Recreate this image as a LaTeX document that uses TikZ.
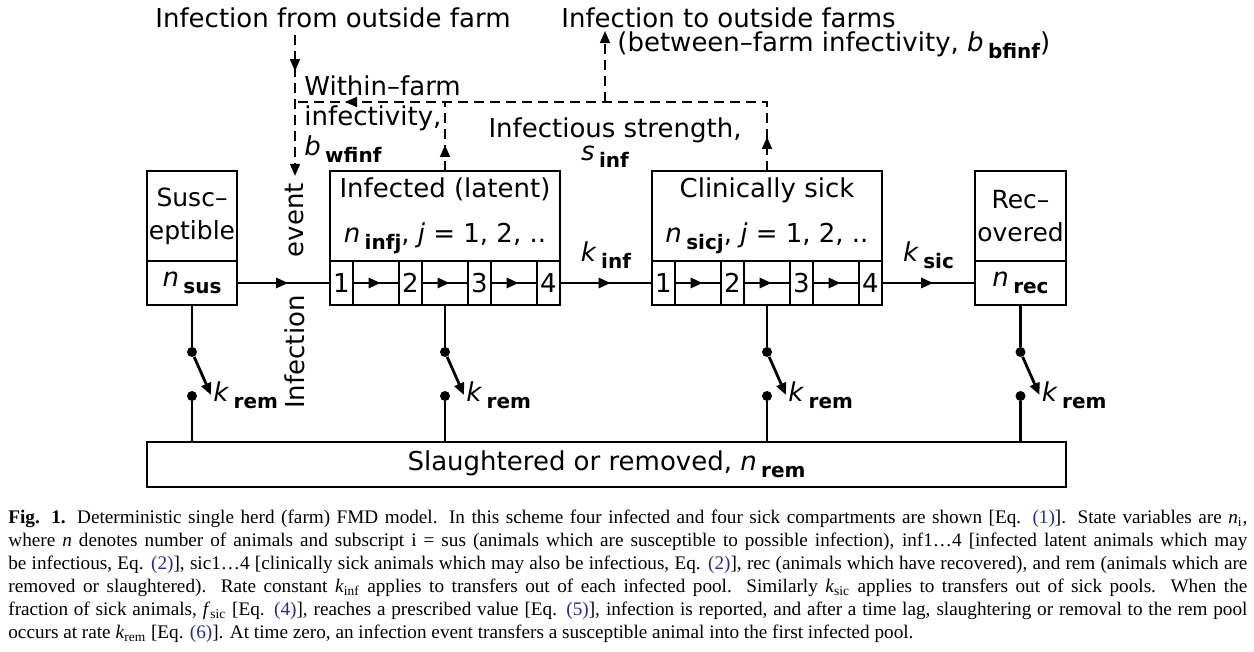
\documentclass[tikz,border=0pt]{standalone}
\usepackage{fontspec}
\setmainfont{DejaVu Sans}
\newfontfamily\capfont{Liberation Serif}
\usetikzlibrary{positioning,arrows.meta,decorations.markings}
\definecolor{eqblue}{RGB}{40,45,140}
\newcommand{\Vsub}[2]{\textit{#1}\,\raisebox{-0.5ex}{\fontsize{10}{10}\selectfont\bfseries #2}}
\newcommand{\Eq}[1]{\textcolor{eqblue}{(#1)}}
\tikzstyle{comp} = [draw, line width=1pt, inner sep=0pt, outer sep=0pt, anchor=north west, align=center, minimum height=45pt]
\tikzstyle{cell} = [draw, line width=1pt, inner sep=0pt, outer sep=0pt, minimum height=22pt]
\tikzstyle{flow} = [line width=1.4pt]
\tikzstyle{dashline} = [line width=0.8pt, dash pattern=on 5pt off 3pt]
\tikzstyle{dot} = [circle, fill, inner sep=0pt, minimum size=5pt]

\begin{document}
\begin{tikzpicture}[x=0.5pt, y=-0.5pt, font=\fontsize{13}{15.6}\selectfont,
  >={Triangle[length=6pt, width=5pt]},
  midtip/.style={postaction={decorate, decoration={markings, mark=at position #1 with {\arrow{>}}}}}]
\useasboundingbox (0,0) rectangle (1254,652);

% Define nodes
\node[comp, minimum width=45pt, font=\fontsize{12.5}{16.5}\selectfont] (sus) at (147,171) {Susc--\\eptible};
\node[comp, minimum width=45pt, minimum height=22pt] (nsus) at (sus.south west) {\Vsub{n}{sus}};
\node[comp, minimum width=115pt] (inf) at (330,171) {Infected (latent)\\[7pt]\Vsub{n}{infj}, \textit{j} = 1, 2, ..};
\node[comp, minimum width=115pt] (sick) at (652,171) {Clinically sick\\[7pt]\Vsub{n}{sicj}, \textit{j} = 1, 2, ..};
\node[comp, minimum width=45.5pt, font=\fontsize{12.5}{16.5}\selectfont] (rec) at (975,171) {Rec--\\overed};
\node[comp, minimum width=45.5pt, minimum height=22pt] (nrec) at (rec.south west) {\Vsub{n}{rec}};
\node[comp, minimum width=459.5pt, minimum height=22.5pt] (rem) at (147,442) {Slaughtered or removed, \Vsub{n}{rem}};

\foreach \bx in {inf, sick} {
  \node[cell, minimum width=11.5pt, anchor=north west] (\bx-c0) at (\bx.south west) {1};
  \foreach \i [remember=\i as \j (initially 0)] in {1,...,6} {
    \ifodd\i\relax
      \node[cell, minimum width=23pt, right=0pt of \bx-c\j] (\bx-c\i) {};
    \else
      \pgfmathtruncatemacro\num{\i/2+1}
      \node[cell, minimum width=11.5pt, right=0pt of \bx-c\j] (\bx-c\i) {\num};
    \fi
  }
}

\node (extin) at (333,18) {Infection from outside farm};
\node[anchor=west, inner sep=0pt] (extout) at (561,18) {Infection to outside farms};
\node[anchor=west, inner sep=0pt] (btwn) at (617,45) {(between--farm infectivity, \Vsub{b}{bfinf})};
\node[rotate=90] (evnt) at (295,220) {event};
\node[rotate=90] (infn) at (295,352) {Infection};
\node[anchor=north west, align=left, inner sep=0pt, font=\fontsize{13}{15}\selectfont] (wfinf) at (304,75) {Within--farm\\infectivity,\\\Vsub{b}{wfinf}};
\node (strength) at (615,130) {Infectious strength,};
\node (sinf) at (605,157) {\Vsub{s}{inf}};

\coordinate (jn) at (295,102);
\coordinate (jout) at (605,102);

% Edges
\draw[flow, midtip=0.55] (nsus) -- (inf-c0);
\foreach \bx in {inf, sick}
  \foreach \a/\b in {0/2, 2/4, 4/6}
    \draw[flow, midtip=0.6] (\bx-c\a) -- (\bx-c\b);
\draw[flow, midtip=0.55] (inf-c6) -- node[above=3pt] (kinf) {\Vsub{k}{inf}} (sick-c0);
\draw[flow, midtip=0.55] (sick-c6) -- node[above=3pt] (ksic) {\Vsub{k}{sic}} (nrec);

% removal switches
\foreach \bx [count=\n] in {nsus, inf-c3, sick-c3, nrec} {
  \node[dot] (swa\n) at (\bx.south |- 0,352) {};
  \node[dot] (swb\n) at (\bx.south |- 0,396) {};
  \node[anchor=west, inner sep=1pt] (krem\n) at ([shift={(19,-1)}]swb\n.center) {\Vsub{k}{rem}};
  \draw[flow] (\bx) -- (swa\n);
  \draw[flow, ->] (swa\n) -- (krem\n.west);
  \draw[flow] (swb\n) -- (swb\n |- rem.north);
}

% infection paths
\draw[dashline, midtip=18pt, ->] (evnt.east |- extin.south) -- (evnt.east);
\draw[dashline, midtip=17pt, midtip=245.5pt] (sick.north) -- (sick.north |- jn) -- (jn);
\draw[dashline, midtip=13pt] (inf.north) -- (inf.north |- jn);
\draw[dashline, ->] (jout) -- (jout |- btwn.north);

% caption
\node[anchor=north west, inner sep=0pt, text width=619.5pt, align=justify,
  font=\capfont\fontsize{9.6}{11.5}\selectfont] (caption) at (8,510)
{\textbf{Fig. 1.} Deterministic single herd (farm) FMD model. In this scheme four infected and four sick compartments are shown [Eq. \Eq{1}]. State variables are \textit{n}\textsubscript{i},\linebreak
where \textit{n} denotes number of animals and subscript i = sus (animals which are susceptible to possible infection), inf1\ldots4 [infected latent animals which may\linebreak
be infectious, Eq. \Eq{2}], sic1\ldots4 [clinically sick animals which may also be infectious, Eq. \Eq{2}], rec (animals which have recovered), and rem (animals which are\linebreak
removed or slaughtered). Rate constant \textit{k}\textsubscript{inf} applies to transfers out of each infected pool. Similarly \textit{k}\textsubscript{sic} applies to transfers out of sick pools. When the\linebreak
fraction of sick animals, \textit{f}\textsubscript{sic} [Eq. \Eq{4}], reaches a prescribed value [Eq. \Eq{5}], infection is reported, and after a time lag, slaughtering or removal to the rem pool\linebreak
occurs at rate \textit{k}\textsubscript{rem} [Eq. \Eq{6}]. At time zero, an infection event transfers a susceptible animal into the first infected pool.};
\end{tikzpicture}
\end{document}
